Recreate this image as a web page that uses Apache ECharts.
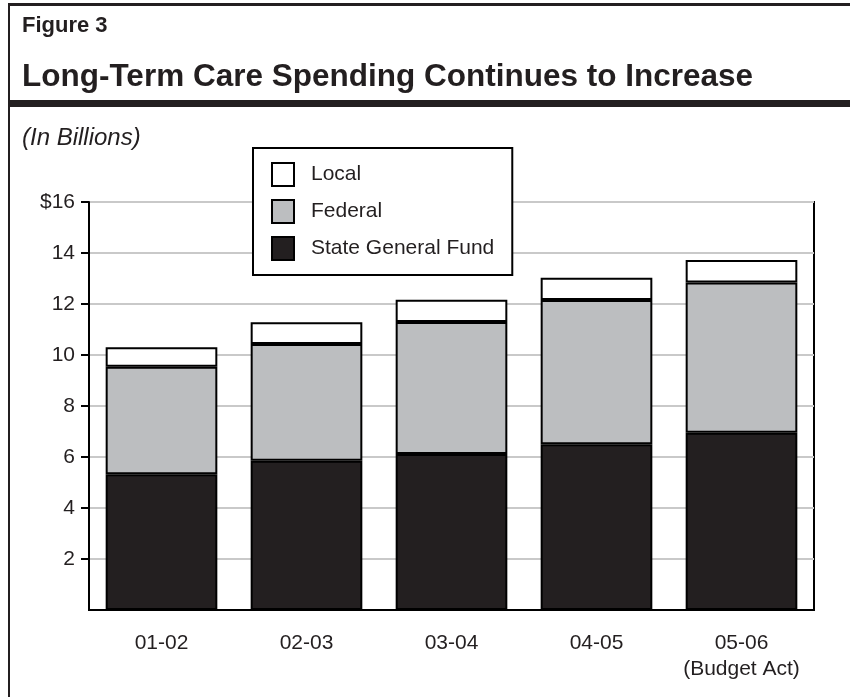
<!DOCTYPE html>
<html>
<head>
<meta charset="utf-8">
<script src="https://cdn.jsdelivr.net/npm/echarts@6/dist/echarts.min.js"></script>
<style>
  html, body { margin: 0; padding: 0; background: #fff; }
  #chart { width: 850px; height: 697px; }
</style>
</head>
<body>
<div id="chart"></div>
<script>
// Fiscal years shown along the bottom
const years = ['01-02', '02-03', '03-04', '04-05', '05-06\n(Budget Act)'];

// Spending by funding source, in billions of dollars
const stateGeneralFund = [5.32, 5.85, 6.12, 6.50, 6.95];
const federal = [4.22, 4.58, 5.17, 5.66, 5.89];
const local = [0.76, 0.85, 0.88, 0.87, 0.89];

// Value axis ticks
const yTicks = [2, 4, 6, 8, 10, 12, 14, 16];

const FONT = '"Liberation Sans", Arial, Helvetica, sans-serif';
const INK = '#231f20';

const chart = echarts.init(document.getElementById('chart'), null, { renderer: 'canvas' });

const barStyle = (color) => ({ color: color, borderColor: '#000', borderWidth: 2 });

chart.setOption({
  animation: false,
  backgroundColor: '#fff',
  textStyle: { fontFamily: FONT, color: INK },
  grid: {
    left: 89, right: 36, top: 202, bottom: 87,
    show: true, borderColor: '#000', borderWidth: 2, backgroundColor: 'transparent'
  },
  legend: {
    orient: 'vertical',
    left: 253, top: 148,
    data: ['Local', 'Federal', 'State General Fund'],
    backgroundColor: '#fff',
    borderColor: '#000',
    borderWidth: 2,
    padding: [14, 18, 14, 18],
    itemWidth: 22, itemHeight: 23, itemGap: 12,
    icon: 'rect',
    itemStyle: { borderColor: '#000', borderWidth: 2 },
    textStyle: { fontFamily: FONT, fontSize: 21, color: INK, padding: [0, 0, 0, 12] },
    selectedMode: false
  },
  xAxis: {
    type: 'category',
    data: years,
    axisLine: { show: true, lineStyle: { color: '#000', width: 2 } },
    axisTick: { show: false },
    axisLabel: { interval: 0, hideOverlap: false, fontFamily: FONT, fontSize: 21, color: INK, margin: 20, lineHeight: 26 }
  },
  yAxis: {
    type: 'value',
    min: 0, max: 16, interval: 2,
    axisLine: { show: true, lineStyle: { color: '#000', width: 2 } },
    axisTick: { show: true, inside: false, length: 8, customValues: yTicks, lineStyle: { color: '#000', width: 2 } },
    axisLabel: {
      fontFamily: FONT, fontSize: 21, color: INK, margin: 14,
      customValues: yTicks,
      formatter: (v) => (v === 16 ? '$16' : String(v))
    },
    splitLine: { show: true, lineStyle: { color: '#c9c9c9', width: 2 } }
  },
  series: [
    { name: 'State General Fund', type: 'bar', stack: 'total', data: stateGeneralFund, barWidth: '77%', itemStyle: barStyle(INK) },
    { name: 'Federal', type: 'bar', stack: 'total', data: federal, barWidth: '77%', itemStyle: barStyle('#bcbec0') },
    { name: 'Local', type: 'bar', stack: 'total', data: local, barWidth: '77%', itemStyle: barStyle('#fff') }
  ],
  graphic: [
    // frame: top rule, left rule, heavy rule under the heading
    { type: 'rect', shape: { x: 8, y: 3, width: 842, height: 3 }, style: { fill: INK }, z: 100 },
    { type: 'rect', shape: { x: 8, y: 3, width: 2, height: 694 }, style: { fill: INK }, z: 100 },
    { type: 'rect', shape: { x: 8, y: 100, width: 842, height: 7 }, style: { fill: INK }, z: 100 },
    { type: 'text', left: 22, top: 15, style: { text: 'Figure 3', font: 'bold 22px ' + FONT, fill: INK }, z: 100 },
    { type: 'text', left: 22, top: 61, style: { text: 'Long-Term Care Spending Continues to Increase', font: 'bold 31.5px ' + FONT, fill: INK }, z: 100 },
    { type: 'text', left: 22, top: 126, style: { text: '(In Billions)', font: 'italic 24px ' + FONT, fill: INK }, z: 100 }
  ]
});
</script>
</body>
</html>
